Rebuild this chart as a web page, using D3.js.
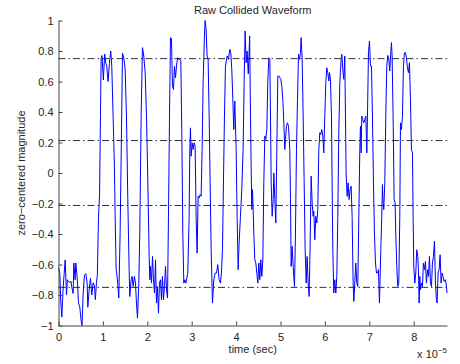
<!DOCTYPE html>
<html>
<head>
<meta charset="utf-8">
<script src="https://cdn.jsdelivr.net/npm/d3@7"></script>
<style>
  html, body { margin: 0; padding: 0; background: #fff; }
  svg { display: block; font-family: "Liberation Sans", Arial, Helvetica, sans-serif; }
</style>
</head>
<body>
<svg id="chart" width="460" height="364"></svg>
<script>
// time in units of 1e-5 s
const timeE5 = [
  0.00,0.03,0.05,0.075,0.105,0.15,0.18,0.20,0.225,0.255,0.28,0.30,0.33,0.345,0.375,0.39,0.42,0.45,0.48,0.51,0.53,0.555,0.585,0.615,0.645,0.66,0.69,0.72,0.75,0.78,0.81,0.83,0.855,0.875,0.90,0.925,0.945,0.96,
  0.98,1.01,1.04,1.065,1.087,1.117,1.147,1.177,1.20,1.23,1.26,1.275,1.298,1.328,1.358,1.388,1.418,
  1.441,1.471,1.501,1.531,1.561,1.591,1.606,1.636,1.659,1.681,1.711,1.734,1.756,1.779,1.809,1.831,1.861,1.891,1.921,1.952,1.982,2.012,2.042,2.057,2.072,2.094,2.117,2.139,2.162,2.184,2.207,2.229,2.252,2.274,2.297,2.319,2.342,2.364,2.387,2.41,2.432,2.455,2.477,2.5,2.522,2.545,2.567,2.59,2.612,2.635,2.665,2.687,2.71,2.732,2.755,2.777,2.8,2.822,2.845,2.868,
  2.912,2.942,2.957,2.972,2.987,3.01,3.032,3.055,3.077,3.1,3.122,3.145,3.167,3.19,3.212,3.235,3.257,3.287,3.302,3.325,3.347,3.37,3.393,3.415,3.438,3.468,3.498,3.528,3.558,3.588,3.618,3.648,3.67,3.693,3.715,3.738,3.76,3.798,3.828,3.858,3.88,3.903,3.926,3.948,3.971,4.001,4.023,4.046,4.068,4.098,4.128,4.158,4.181,4.203,4.226,4.248,4.275,
  4.305,4.324,4.339,4.354,4.369,4.384,4.399,4.422,4.444,4.467,4.489,4.512,4.534,4.557,4.579,4.602,4.624,4.647,4.669,4.692,4.714,4.737,4.76,4.775,4.79,4.812,4.835,4.85,4.872,4.895,4.917,4.94,4.962,4.985,5.007,5.03,5.052,5.075,5.097,5.112,5.135,5.157,5.18,5.21,5.225,5.24,5.262,5.285,5.315,5.337,5.36,5.383,5.405,5.428,5.45,5.465,5.488,5.51,5.533,5.555,5.578,5.6,5.623,5.645,5.668,5.69,5.713,5.735,5.75,
  5.773,5.795,5.818,5.84,5.863,5.885,5.908,5.93,5.953,5.975,5.998,6.02,6.043,6.065,6.088,6.103,6.125,6.148,6.163,6.178,6.2,6.223,6.246,6.268,6.291,6.313,6.336,6.366,6.381,6.403,6.426,6.448,6.463,6.478,6.501,6.523,6.546,6.568,6.591,6.613,6.636,6.651,6.673,6.696,6.718,6.741,6.764,6.786,6.801,6.816,6.831,6.854,6.876,6.899,6.921,6.944,6.959,6.981,7.004,7.026,7.049,7.071,7.094,7.116,7.139,7.161,7.184,7.206,7.229,
  7.259,7.281,7.296,7.311,7.326,7.349,7.371,7.394,7.416,7.439,7.461,7.484,7.499,7.514,7.536,7.559,7.581,7.596,7.619,7.641,7.664,7.687,7.702,7.724,7.747,7.769,7.792,7.814,7.837,7.859,7.882,7.904,7.927,7.949,7.972,7.987,8.002,8.024,8.047,8.069,8.092,8.107,8.122,8.137,8.152,8.174,8.197,8.219,8.242,8.265,8.287,8.31,8.332,8.355,8.377,8.4,8.422,8.445,8.467,8.49,8.512,8.527,8.55,8.572,8.595,8.617,8.64,8.662,8.685,8.707,8.73,8.75
];
const magnitude = [
  -0.62,-0.66,-0.84,-0.945,-0.75,-0.57,-0.80,-0.70,-0.71,-0.72,-0.71,-0.75,-0.79,-0.59,-0.70,-0.59,-0.68,-0.85,-0.88,-0.97,-1.0,-0.79,-0.67,-0.66,-0.72,-0.88,-0.77,-0.69,-0.80,-0.72,-0.74,-0.83,-0.72,-0.67,-0.30,-0.14,0.37,0.75,
  0.77,0.61,0.78,0.72,0.70,0.60,0.72,0.80,0.70,0.37,0.04,-0.28,-0.63,-0.70,-0.82,-0.39,0.26,
  0.785,0.756,0.68,0.373,-0.174,-0.634,-0.81,-0.70,-0.678,-0.744,-0.678,-0.722,-0.853,-0.952,-0.722,-0.394,0.373,0.822,0.767,0.658,0.373,-0.065,-0.547,-0.70,-0.612,-0.722,-0.547,-0.70,-0.787,-0.569,-0.853,-0.744,-0.919,-0.722,-0.70,-0.832,-0.678,-0.832,-0.744,-0.612,-0.766,-0.82,-0.284,0.373,0.888,0.88,0.57,0.548,0.70,0.625,0.723,0.756,0.745,0.745,0.734,0.264,-0.394,-0.722,-0.70,-0.722,
  -0.656,-0.284,0.154,0.296,0.11,0.198,0.154,0.198,0.176,-0.284,-0.525,-0.153,-0.164,-0.142,-0.153,0.154,0.592,0.899,1.0,0.942,0.767,0.745,0.373,-0.065,-0.503,-0.853,-0.70,-0.656,-0.656,-0.601,-0.70,-0.722,-0.656,-0.503,-0.065,0.373,0.701,0.767,0.745,0.811,0.789,0.68,0.483,0.285,0.472,0.154,-0.284,-0.634,-0.459,-0.284,-0.109,0.154,0.592,0.931,0.723,0.80,0.65,
  0.899,0.373,0.044,-0.24,-0.109,-0.24,-0.394,-0.569,-0.59,-0.656,-0.722,-0.59,-0.70,-0.569,-0.678,-0.569,-0.065,0.242,0.22,0.285,0.592,0.756,0.745,0.373,-0.065,-0.284,-0.174,0.0,-0.174,-0.328,0.154,0.636,0.636,0.625,0.614,0.57,0.483,0.329,0.154,0.22,0.307,0.329,0.307,0.154,-0.174,-0.612,-0.48,-0.612,-0.744,-0.394,0.154,0.483,0.778,0.745,0.789,0.888,0.745,0.373,-0.065,-0.503,-0.722,-0.547,-0.722,-0.81,-0.459,-0.021,-0.196,-0.284,-0.25,
  -0.437,-0.284,-0.328,-0.24,0.154,0.264,0.253,0.285,0.242,0.132,0.373,0.592,0.69,0.658,0.603,0.658,0.614,0.373,-0.065,-0.503,-0.787,-0.70,-0.787,-0.678,-0.284,0.264,0.592,0.745,0.778,0.68,0.614,0.767,0.373,0.0,-0.153,-0.065,-0.174,-0.109,-0.087,-0.284,-0.722,-0.842,-0.722,-0.59,-0.722,-0.744,-0.284,0.154,0.307,0.132,0.373,0.351,0.329,0.351,0.373,0.132,0.373,0.789,0.866,0.701,0.701,0.373,-0.065,-0.394,-0.59,-0.656,-0.656,-0.634,-0.853,
  -0.503,-0.284,-0.076,-0.196,-0.24,-0.065,0.373,0.701,0.771,0.745,0.669,0.789,0.855,0.767,0.373,-0.174,-0.196,-0.394,-0.612,-0.744,-0.722,-0.284,0.329,0.285,0.373,0.701,0.789,0.789,0.756,0.69,0.658,0.723,0.483,0.154,0.132,-0.284,-0.612,-0.722,-0.656,-0.503,-0.547,-0.634,-0.853,-0.678,-0.766,-0.722,-0.744,-0.59,-0.634,-0.58,-0.722,-0.634,-0.678,-0.547,-0.722,-0.744,-0.59,-0.547,-0.448,-0.722,-0.832,-0.853,-0.656,-0.634,-0.536,-0.722,-0.656,-0.678,-0.711,-0.70,-0.722,-0.787
];
const thresholds = [0.75, 0.213, -0.213, -0.75];
const xTicks = [0, 1, 2, 3, 4, 5, 6, 7, 8];
const yTicks = [-1, -0.8, -0.6, -0.4, -0.2, 0, 0.2, 0.4, 0.6, 0.8, 1];
const titleText = "Raw Collided Waveform";
const xLabelText = "time (sec)";
const yLabelText = "zero\u2212centered magnitude";
const xDomain = [0, 8.75];
const yDomain = [-1, 1];

const svg = d3.select("#chart");
const plotL = 58.5, plotR = 447, plotT = 20.5, plotB = 325.5;
const x = d3.scaleLinear().domain(xDomain).range([plotL, plotR]);
const y = d3.scaleLinear().domain(yDomain).range([plotB, plotT]);
const textColor = "#262626";

// threshold dash-dot lines
svg.append("g").selectAll("line").data(thresholds).join("line")
  .attr("x1", x(xDomain[0])).attr("x2", x(xDomain[1]))
  .attr("y1", d => y(d)).attr("y2", d => y(d))
  .attr("stroke", "#333").attr("stroke-width", 1)
  .attr("stroke-dasharray", "7,3,1.5,3");

// waveform
const pts = timeE5.map((t, i) => [t, magnitude[i]]);
svg.append("path").datum(pts)
  .attr("fill", "none").attr("stroke", "#0000ff").attr("stroke-width", 1)
  .attr("stroke-linejoin", "round")
  .attr("d", d3.line().x(d => x(d[0])).y(d => y(d[1])));

const fmt = d => (d < 0 ? "\u2212" : "") + d3.format("~g")(Math.abs(+d.toFixed(1)));

// axes
const xAxis = svg.append("g").attr("transform", `translate(0,${plotB})`)
  .call(d3.axisBottom(x).tickValues(xTicks).tickSizeInner(-4).tickSizeOuter(0).tickPadding(8).tickFormat(d3.format("d")));
const yAxis = svg.append("g").attr("transform", `translate(${plotL},0)`)
  .call(d3.axisLeft(y).tickValues(yTicks).tickSizeInner(-4).tickSizeOuter(0).tickPadding(5).tickFormat(fmt));
[xAxis, yAxis].forEach(g => {
  g.select(".domain").attr("stroke", "#444").attr("stroke-width", 1);
  g.selectAll(".tick line").attr("stroke", "#444");
  g.selectAll(".tick text").attr("fill", textColor).style("font-size", "11px")
    .style("font-family", '"Liberation Sans", Arial, sans-serif');
});

// title
svg.append("text").attr("x", (plotL + plotR) / 2).attr("y", 14)
  .attr("text-anchor", "middle").attr("fill", textColor).style("font-size", "11px")
  .text(titleText);

// x label
svg.append("text").attr("x", (plotL + plotR) / 2).attr("y", 353)
  .attr("text-anchor", "middle").attr("fill", textColor).style("font-size", "11px")
  .text(xLabelText);

// y label
svg.append("text").attr("transform", `translate(25,${(plotT + plotB) / 2}) rotate(-90)`)
  .attr("text-anchor", "middle").attr("fill", textColor).style("font-size", "11px")
  .text(yLabelText);

// exponent
const ex = svg.append("text").attr("x", plotR).attr("y", 358).attr("text-anchor", "end")
  .attr("fill", textColor).style("font-size", "11px");
ex.append("tspan").text("x 10");
ex.append("tspan").attr("dy", -5).style("font-size", "8px").text("\u22125");
</script>
</body>
</html>
